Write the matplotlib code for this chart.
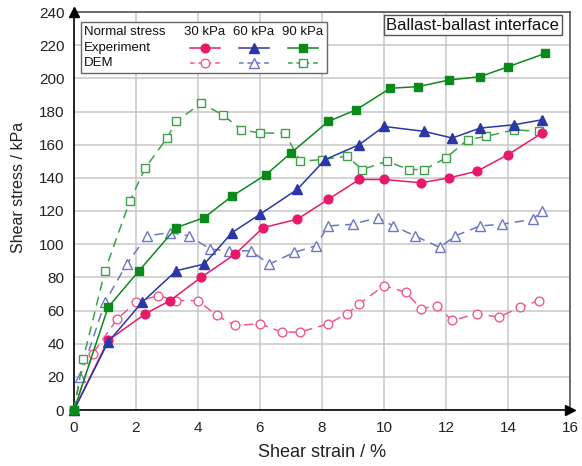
import matplotlib
matplotlib.use("Agg")
import matplotlib.pyplot as plt
from matplotlib.lines import Line2D
from matplotlib.patches import Rectangle

plt.rcParams['font.family'] = ['Liberation Sans', 'DejaVu Sans']

# ---- data ----
exp30_x = [0, 1.1, 2.3, 3.1, 4.1, 5.2, 6.1, 7.2, 8.2, 9.2, 10.0, 11.2, 12.1, 13.0, 14.0, 15.1]
exp30_y = [0, 42, 58, 66, 80, 94, 110, 115, 127, 139, 139, 137, 140, 144, 154, 167]
exp60_x = [0, 1.1, 2.2, 3.3, 4.2, 5.1, 6.0, 7.2, 8.1, 9.2, 10.0, 11.3, 12.2, 13.1, 14.2, 15.1]
exp60_y = [0, 41, 65, 84, 88, 107, 118, 133, 151, 160, 171, 168, 164, 170, 172, 175]
exp90_x = [0, 1.1, 2.1, 3.3, 4.2, 5.1, 6.2, 7.0, 8.2, 9.1, 10.2, 11.1, 12.1, 13.1, 14.0, 15.2]
exp90_y = [0, 62, 84, 110, 116, 129, 142, 155, 174, 181, 194, 195, 199, 201, 207, 215]

dem30_x = [0, 0.6, 1.4, 2.0, 2.7, 3.3, 4.0, 4.6, 5.2, 6.0, 6.7, 7.3, 8.2, 8.8, 9.2, 10.0,
           10.7, 11.2, 11.7, 12.2, 13.0, 13.7, 14.4, 15.0]
dem30_y = [0, 34, 55, 65, 69, 66, 66, 57, 51, 52, 47, 47, 52, 58, 64, 75,
           71, 61, 63, 54, 58, 56, 62, 66]
dem60_x = [0, 0.2, 1.0, 1.7, 2.35, 3.1, 3.7, 4.4, 5.0, 5.7, 6.3, 7.1, 7.8, 8.2, 9.0, 9.8,
           10.3, 11.0, 11.8, 12.3, 13.1, 13.8, 14.8, 15.1]
dem60_y = [0, 20, 65, 88, 105, 107, 105, 97, 96, 96, 88, 95, 99, 111, 112, 116,
           111, 105, 98, 105, 111, 112, 115, 120]
dem90_x = [0, 0.3, 1.0, 1.8, 2.3, 3.0, 3.3, 4.1, 4.8, 5.4, 6.0, 6.8, 7.3, 8.0, 8.8, 9.3,
           10.1, 10.8, 11.3, 12.0, 12.7, 13.3, 14.2, 15.0]
dem90_y = [0, 31, 84, 126, 146, 164, 174, 185, 178, 169, 167, 167, 150, 151, 153, 145,
           150, 145, 145, 152, 163, 165, 169, 168]

stress_labels = ["30 kPa", "60 kPa", "90 kPa"]
x_ticks = list(range(0, 17, 2))
y_ticks = list(range(0, 241, 20))

c_exp = ['#e8196b', '#2b37a6', '#0b8a1c']
c_dem = ['#ee5a8e', '#6c76c8', '#3fa04a']
mk_exp = ['o', '^', 's']
ms_exp = [6.3, 6.8, 5.8]

fig = plt.figure(figsize=(5.82, 4.66), dpi=100)
ax = fig.add_axes([74/582, 56/466, 496/582, 398/466])

dem_series = [(dem30_x, dem30_y), (dem60_x, dem60_y), (dem90_x, dem90_y)]
exp_series = [(exp30_x, exp30_y), (exp60_x, exp60_y), (exp90_x, exp90_y)]

for i, (x, y) in enumerate(dem_series):
    ax.plot(x, y, color=c_dem[i], lw=1.1, dashes=(6, 4), marker=mk_exp[i],
            ms=ms_exp[i], mfc='white', mec=c_dem[i], mew=1.0, zorder=3, clip_on=False)
for i, (x, y) in enumerate(exp_series):
    ax.plot(x, y, color=c_exp[i], lw=1.1, marker=mk_exp[i], ms=ms_exp[i],
            mfc=c_exp[i], mec=c_exp[i], zorder=4, clip_on=False)

ax.set_xlim(0, 16)
ax.set_ylim(0, 240)
ax.set_xticks(x_ticks)
ax.set_yticks(y_ticks)
ax.grid(True, color='#c8c8c8', lw=1.1, zorder=0)
ax.set_axisbelow(True)
ax.tick_params(length=0, labelsize=11, colors='#222222')
ax.tick_params(axis='y', pad=7)
ax.tick_params(axis='x', pad=8)
for s in ['left', 'bottom']:
    ax.spines[s].set_color('black')
    ax.spines[s].set_linewidth(1.2)
for s in ['top', 'right']:
    ax.spines[s].set_color('#555555')
    ax.spines[s].set_linewidth(1.2)

ax.set_xlabel("Shear strain / %", fontsize=13, color='#222222')
ax.set_ylabel("Shear stress / kPa", fontsize=11.5, color='#222222')
ax.xaxis.set_label_coords(0.5, -0.085)
ax.yaxis.set_label_coords(-0.097, 0.56)

# axis arrows
ax.plot([0], [1], marker='^', ms=7, color='black', transform=ax.transAxes, clip_on=False, zorder=6)
ax.plot([1], [0], marker='>', ms=7, color='black', transform=ax.transAxes, clip_on=False, zorder=6)

# annotation box
ax.text(0.978, 0.985, "Ballast-ballast interface", transform=ax.transAxes, ha='right', va='top',
        fontsize=12, color='#111111',
        bbox=dict(boxstyle='square,pad=0.15', fc='white', ec='#555555', lw=1.0), zorder=7)

# table-style legend
def axf(px, py):
    return ((px - 74) / 496, (410 - py) / 398)

x0, y0 = axf(81, 73)
x1, y1 = axf(327, 22)
ax.add_patch(Rectangle((x0, y0), x1 - x0, y1 - y0, transform=ax.transAxes, fc='white',
                       ec='#666666', lw=1.0, zorder=7, clip_on=False))
lf = 9.5
for txt, py in [("Normal stress", 32), ("Experiment", 47.5), ("DEM", 63)]:
    tx, ty = axf(83.5, py)
    ax.text(tx, ty, txt, transform=ax.transAxes, ha='left', va='center', fontsize=lf,
            color='#111111', zorder=8)
centers = [205, 254, 303]
for i, lab in enumerate(stress_labels):
    tx, ty = axf(centers[i], 32)
    ax.text(tx, ty, lab, transform=ax.transAxes, ha='center', va='center', fontsize=lf,
            color='#111111', zorder=8)
    for py, col, mfc, dash in [(47.5, c_exp[i], c_exp[i], None), (63, c_dem[i], 'white', (3, 2.5))]:
        ax_l, ay = axf(centers[i] - 15, py)
        ax_r, _ = axf(centers[i] + 15, py)
        axm, _ = axf(centers[i], py)
        ln = Line2D([ax_l, ax_r], [ay, ay], transform=ax.transAxes, color=col, lw=1.1,
                    zorder=8, clip_on=False)
        if dash:
            ln.set_dashes(dash)
        ax.add_line(ln)
        ax.add_line(Line2D([axm], [ay], transform=ax.transAxes, marker=mk_exp[i], ms=ms_exp[i],
                           mfc=mfc, mec=col, mew=1.0, ls='none', zorder=9, clip_on=False))

fig.savefig("out.png", dpi=100)
